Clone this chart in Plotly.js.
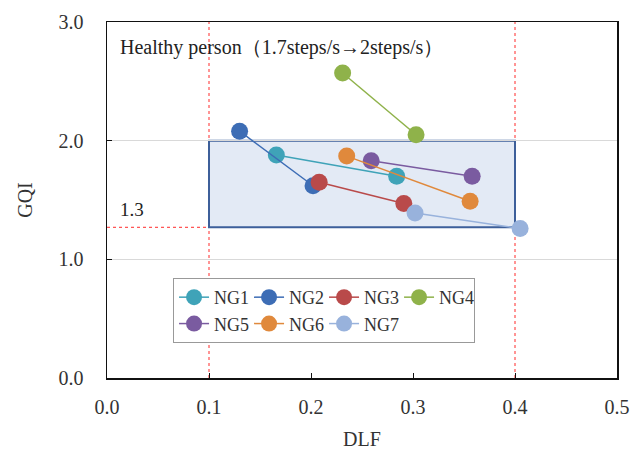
<!DOCTYPE html>
<html>
<head>
<meta charset="utf-8">
<script src="https://cdn.plot.ly/plotly-3.0.1.min.js"></script>
<style>html,body{margin:0;padding:0;background:#fff;}#chart{width:637px;height:450px;}</style>
</head>
<body>
<div id="chart"></div>
<script>
// Series names and colours
const seriesNames = ["NG1", "NG2", "NG3", "NG4", "NG5", "NG6", "NG7"];
const seriesColors = ["#3fa3b8", "#3d6db5", "#b94a4a", "#8fb24a", "#7a5ba0", "#e0893c", "#98b2dc"];

// DLF (x) values per series: first point at 1.7 steps/s, second at 2 steps/s
const dlfNG1 = [0.166, 0.284];
const dlfNG2 = [0.130, 0.202];
const dlfNG3 = [0.208, 0.291];
const dlfNG4 = [0.231, 0.303];
const dlfNG5 = [0.259, 0.358];
const dlfNG6 = [0.235, 0.356];
const dlfNG7 = [0.302, 0.405];

// GQI (y) values per series
const gqiNG1 = [1.88, 1.70];
const gqiNG2 = [2.08, 1.62];
const gqiNG3 = [1.65, 1.47];
const gqiNG4 = [2.57, 2.05];
const gqiNG5 = [1.83, 1.70];
const gqiNG6 = [1.87, 1.49];
const gqiNG7 = [1.39, 1.26];

// Healthy-person reference region
const regionDLF = [0.1, 0.4];
const regionGQI = [1.27, 2.0];

// Axis ticks
const xTicks = [0.0, 0.1, 0.2, 0.3, 0.4, 0.5];
const yTicks = [0.0, 1.0, 2.0, 3.0];

const allX = [dlfNG1, dlfNG2, dlfNG3, dlfNG4, dlfNG5, dlfNG6, dlfNG7];
const allY = [gqiNG1, gqiNG2, gqiNG3, gqiNG4, gqiNG5, gqiNG6, gqiNG7];

const serif = "Liberation Serif, Times New Roman, serif";

const traces = seriesNames.map((name, i) => ({
  type: "scatter",
  mode: "lines+markers",
  name: name,
  x: allX[i],
  y: allY[i],
  line: {color: seriesColors[i], width: 1.5},
  marker: {color: seriesColors[i], size: 17}
}));

const layout = {
  width: 637,
  height: 450,
  margin: {l: 107, r: 20, t: 22, b: 72},
  paper_bgcolor: "#fff",
  plot_bgcolor: "#fff",
  font: {family: serif, color: "#333", size: 20},
  showlegend: true,
  legend: {
    orientation: "h",
    x: 0.196, xanchor: "left",
    y: 0.281, yanchor: "top",
    bgcolor: "#fff",
    bordercolor: "#999",
    borderwidth: 1,
    font: {family: serif, size: 18, color: "#333"},
    entrywidth: 30,
    itemwidth: 30,
    tracegroupgap: 0
  },
  xaxis: {
    range: [0, 0.5],
    tickvals: xTicks,
    tickformat: ".1f",
    showgrid: false,
    zeroline: false,
    showline: true, linecolor: "#111", linewidth: 1.5, mirror: true,
    ticks: "inside", ticklen: 5, tickcolor: "#111",
    ticklabelstandoff: 10,
    tickfont: {family: serif, size: 20, color: "#333"},
    title: {text: "DLF", font: {family: serif, size: 20, color: "#333"}, standoff: 20}
  },
  yaxis: {
    range: [0, 3],
    tickvals: yTicks,
    tickformat: ".1f",
    showgrid: true, gridcolor: "#d9d9d9", gridwidth: 1,
    zeroline: false,
    showline: true, linecolor: "#111", linewidth: 1.5, mirror: true,
    ticks: "inside", ticklen: 5, tickcolor: "#111",
    ticklabelstandoff: 18,
    tickfont: {family: serif, size: 20, color: "#333"},
    title: {text: "GQI", font: {family: serif, size: 20, color: "#333"}, standoff: 20}
  },
  shapes: [
    {type: "rect", layer: "below", xref: "x", yref: "y",
     x0: regionDLF[0], x1: regionDLF[1], y0: regionGQI[0], y1: regionGQI[1],
     fillcolor: "#e3eaf5", line: {color: "#3d5f9a", width: 2}},
    {type: "line", xref: "x", yref: "paper", x0: regionDLF[0], x1: regionDLF[0], y0: 0, y1: 1,
     line: {color: "#ff2a2a", width: 1, dash: "dot"}, layer: "below"},
    {type: "line", xref: "x", yref: "paper", x0: regionDLF[1], x1: regionDLF[1], y0: 0, y1: 1,
     line: {color: "#ff2a2a", width: 1, dash: "dot"}, layer: "below"},
    {type: "line", xref: "x", yref: "y", x0: 0, x1: regionDLF[0], y0: regionGQI[0], y1: regionGQI[0],
     line: {color: "#ff2a2a", width: 1, dash: "dot"}, layer: "below"}
  ],
  annotations: [
    {xref: "paper", yref: "paper", x: 0.022, y: 0.927, xanchor: "left", yanchor: "middle",
     text: "Healthy person（1.7steps/s→2steps/s）", showarrow: false,
     font: {family: serif, size: 20, color: "#222"}},
    {xref: "paper", yref: "y", x: 0.022, y: 1.42, xanchor: "left", yanchor: "middle",
     text: "1.3", showarrow: false, font: {family: serif, size: 19, color: "#222"}}
  ]
};

Plotly.newPlot("chart", traces, layout, {displayModeBar: false, staticPlot: true});
</script>
</body>
</html>
